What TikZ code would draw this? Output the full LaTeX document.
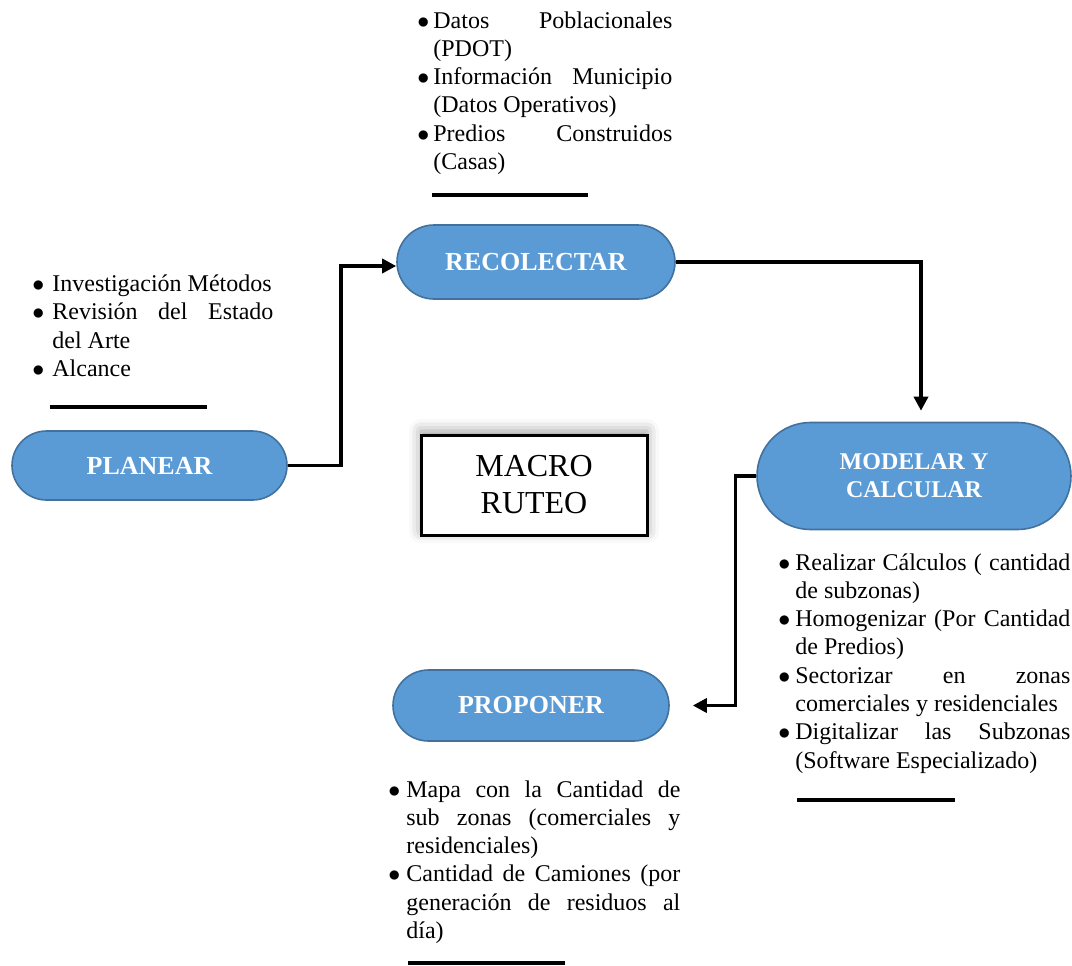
\documentclass[tikz,border=0pt]{standalone}
\usepackage{fontspec}
\setmainfont{Liberation Serif}
\usepackage{xcolor, tikz}
\usetikzlibrary{shapes.misc,arrows.meta,shadows.blur}
\definecolor{pillfill}{HTML}{5B9BD5}
\definecolor{pillline}{HTML}{41719C}
\tolerance=10000 \hbadness=10000 \hyphenpenalty=10000
\newcommand{\itm}[2]{\noindent\hangindent=#1\hangafter=1\makebox[#1][l]{$\bullet$}#2\par}
\tikzstyle{pill} = [rounded rectangle, draw=pillline, line width=0.8pt, fill=pillfill, text=white, inner sep=0pt, align=center, font=\fontsize{13}{15}\selectfont\bfseries]
\tikzstyle{notes} = [anchor=base west, inner sep=0pt, align=justify, font=\fontsize{12}{14.15}\selectfont]
\tikzstyle{link} = [line width=1.7pt, -{Triangle[length=7pt,width=7pt]}]
\tikzstyle{rule} = [line width=1.8pt]

\begin{document}
\begin{tikzpicture}[x=0.5pt, y=-0.5pt]
  \useasboundingbox (0,0) rectangle (1072,965);
  \node (planear)[pill, minimum width=137.5pt, minimum height=34.5pt] at (149.5,465.5) {PLANEAR};
  \node (recolectar)[pill, minimum width=139pt, minimum height=37pt] at (536,262) {RECOLECTAR};
  \node (modelar)[pill, minimum width=157pt, minimum height=53.5pt, font=\fontsize{12}{14}\selectfont\bfseries] at (914,476) {MODELAR Y\\CALCULAR};
  \node (proponer)[pill, minimum width=138pt, minimum height=35.5pt] at (531,705.5) {PROPONER};
  \node (macro)[draw, line width=1.5pt, fill=white, minimum width=113pt, minimum height=50pt, align=center, font=\fontsize{16}{18.5}\selectfont,
    blur shadow={shadow xshift=0pt, shadow yshift=2pt, shadow blur radius=6pt}] at (534,485) {MACRO\\RUTEO};
  % listas de actividades
  \node (datos)[notes, text width=127.5pt] at (417,28) {\itm{8pt}{Datos Poblacionales\linebreak (PDOT)}\itm{8pt}{Información Municipio\linebreak (Datos Operativos)}\itm{8pt}{Predios Construidos\linebreak (Casas)}};
  \node (metodos)[notes, text width=120.5pt] at (32,291.5) {\itm{10pt}{Investigación Métodos}\itm{10pt}{Revisión del Estado\linebreak del Arte}\itm{10pt}{Alcance}};
  \node (calculos)[notes, text width=146pt] at (778,570) {\itm{8.5pt}{Realizar Cálculos ( cantidad\linebreak de subzonas)}\itm{8.5pt}{Homogenizar (Por Cantidad\linebreak de Predios)}\itm{8.5pt}{Sectorizar en zonas\linebreak comerciales y residenciales}\itm{8.5pt}{Digitalizar las Subzonas\linebreak (Software Especializado)}};
  \node (mapa)[notes, text width=146pt] at (388,797) {\itm{9pt}{Mapa con la Cantidad de\linebreak sub zonas (comerciales y\linebreak residenciales)}\itm{9pt}{Cantidad de Camiones (por\linebreak generación de residuos al\linebreak día)}};
  % conectores
  \draw [link] (planear.east) -- ++(26.5pt,0) |- ([yshift=-2pt]recolectar.west);
  \draw [link, shorten >=5.5pt] (recolectar.east) -| ([xshift=3.5pt]modelar.north);
  \draw [link, shorten >=11.5pt] (modelar.west) -- ++(-10.5pt,0) |- (proponer.east);
  % lineas bajo las listas
  \draw [rule] (432,195) -- (588,195);
  \draw [rule] (50,407) -- (207,407);
  \draw [rule] (797,800) -- (955,800);
  \draw [rule] (408,963) -- (565,963);
\end{tikzpicture}
\end{document}
